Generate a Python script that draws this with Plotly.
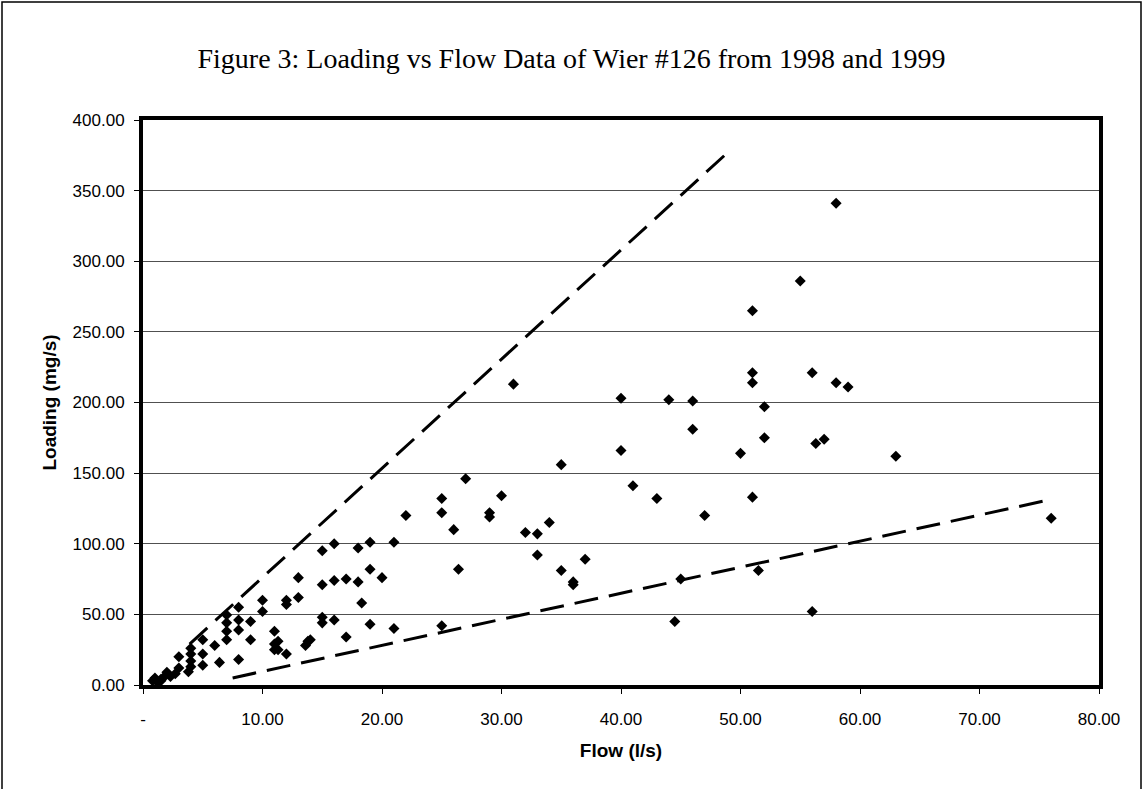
import plotly.graph_objects as go

# ---- data ----
flow = [0.8, 1.0, 1.2, 1.5, 1.5, 1.8, 2.0, 2.3, 2.7, 3.0, 3.0, 3.8, 4.0, 4.0, 4.0, 4.0, 5.0, 5.0, 5.0, 6.0, 6.4,
        7.0, 7.0, 7.0, 7.0, 8.0, 8.0, 8.0, 8.0, 9.0, 9.0, 10.0, 10.0,
        11.0, 11.0, 11.0, 11.3, 11.3, 12.0, 12.0, 12.0, 13.0, 13.0, 13.6, 13.8, 14.0,
        15.0, 15.0, 15.0, 15.0, 16.0, 16.0, 16.0, 17.0, 17.0, 18.3, 18.0, 18.0, 19.0, 19.0, 19.0, 20.0, 21.0, 21.0, 22.0,
        25.0, 25.0, 25.0, 26.0, 26.4, 27.0, 29.0, 29.0, 30.0, 31.0, 32.0, 33.0, 33.0, 34.0, 35.0, 35.0, 36.0, 36.0, 37.0,
        40.0, 40.0, 41.0, 43.0, 44.0, 44.5, 45.0, 46.0, 46.0, 47.0, 50.0, 51.0, 51.0, 51.0, 51.0, 51.5, 52.0, 52.0,
        55.0, 56.0, 56.0, 56.3, 57.0, 58.0, 58.0, 59.0, 63.0, 76.0]
loading = [3, 5, 2, 4, 3, 6, 9, 6, 8, 12, 20, 9.4, 13, 17, 22, 26, 14, 22, 32, 28, 16,
           32, 38, 44, 49.5, 18, 39, 46, 55, 32, 45, 52, 60,
           25, 29, 38, 25, 31, 22, 57, 60, 62, 76, 28, 31, 32,
           44, 48, 71, 95, 46, 74, 100, 34, 75, 58, 73, 97, 43, 82, 101, 76, 40, 101, 120,
           42, 122, 132, 110, 82, 146, 119, 122, 134, 213, 108, 92, 107, 115, 81, 156, 71, 73, 89,
           166, 203, 141, 132, 202, 45, 75, 181, 201, 120, 164, 133, 214, 221, 265, 81, 175, 197,
           286, 52, 221, 171, 174, 214, 341, 211, 162, 118]

upper_x = [3.9, 48.8]
upper_y = [29, 376]
lower_x = [7.5, 75.8]
lower_y = [5, 131]

x_ticks = [0, 10, 20, 30, 40, 50, 60, 70, 80]
x_ticktext = ["-", "10.00", "20.00", "30.00", "40.00", "50.00", "60.00", "70.00", "80.00"]
y_ticks = [0, 50, 100, 150, 200, 250, 300, 350, 400]
y_ticktext = ["0.00", "50.00", "100.00", "150.00", "200.00", "250.00", "300.00", "350.00", "400.00"]

W, H = 1143, 789
L, R, T, B = 143, 44, 120, 104

fig = go.Figure()
dash_style = dict(color="black", width=3, dash="24px,11px")
fig.add_trace(go.Scatter(x=upper_x, y=upper_y, mode="lines", line=dash_style, hoverinfo="skip"))
fig.add_trace(go.Scatter(x=lower_x, y=lower_y, mode="lines", line=dash_style, hoverinfo="skip"))
fig.add_trace(go.Scatter(x=flow, y=loading, mode="markers",
                         marker=dict(symbol="diamond", size=8.5, color="black")))

pw = W - L - R
ph = H - T - B
fig.add_shape(type="rect", xref="paper", yref="paper",
              x0=(2 - L) / pw, x1=(W - 2 - L) / pw,
              y0=-(B + 20) / ph, y1=(ph + T - 2) / ph,
              line=dict(color="black", width=1.5), layer="below")

fig.update_layout(
    width=W, height=H,
    margin=dict(l=L, r=R, t=T, b=B, pad=0),
    paper_bgcolor="white", plot_bgcolor="white",
    showlegend=False,
    title=dict(text="Figure 3: Loading vs Flow Data of Wier #126 from 1998 and 1999",
               font=dict(family="Liberation Serif", size=28, color="black"),
               x=0.5, xanchor="center", xref="container",
               y=1 - 58 / H, yanchor="middle", yref="container"),
    font=dict(family="Liberation Sans, Arial", color="black"),
)
fig.update_xaxes(range=[0, 80], tickvals=x_ticks, ticktext=x_ticktext,
                 ticks="outside", ticklen=5, tickcolor="black", tickwidth=1,
                 tickfont=dict(size=17, family="Liberation Sans"), ticklabelstandoff=11,
                 showgrid=False, zeroline=False,
                 showline=True, linecolor="black", linewidth=4, mirror=True,
                 title=dict(text="<b>Flow (l/s)</b>", font=dict(size=19, family="Liberation Sans"), standoff=16))
fig.update_yaxes(range=[0, 400], tickvals=y_ticks, ticktext=y_ticktext,
                 ticks="outside", ticklen=5, tickcolor="black", tickwidth=1,
                 tickfont=dict(size=17, family="Liberation Sans"), ticklabelstandoff=6,
                 showgrid=True, gridcolor="#505050", gridwidth=1,
                 zeroline=False,
                 showline=True, linecolor="black", linewidth=4, mirror=True,
                 title=dict(text="<b>Loading (mg/s)</b>", font=dict(size=19, family="Liberation Sans"), standoff=12))

fig.write_html("out.html")
